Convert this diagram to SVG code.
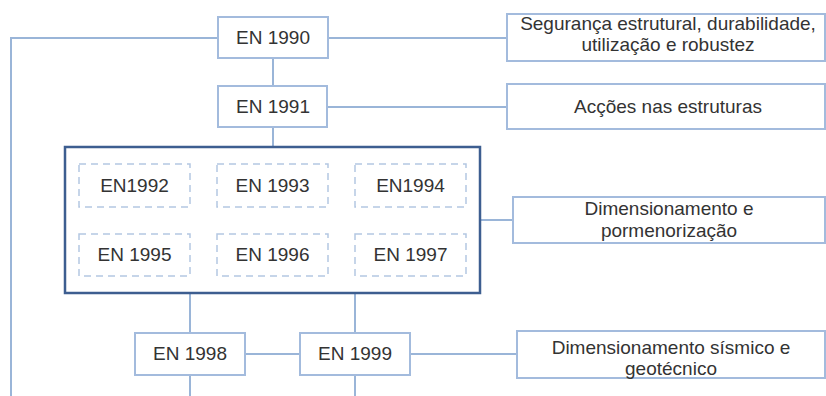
<svg xmlns="http://www.w3.org/2000/svg" width="826" height="396" viewBox="0 0 826 396">
<style>
.c{stroke:#9AB5D8;stroke-width:2;fill:none}
.b{fill:#fff;stroke:#A3BBDD;stroke-width:2}
.d{fill:#fff;stroke:#B4C7E2;stroke-width:1.5;stroke-dasharray:7 5}
.big{fill:#fff;stroke:#3D5E90;stroke-width:2.5}
text{font-family:"Liberation Sans",Arial,sans-serif;font-size:19px;fill:#333;text-anchor:middle}
</style>
<rect width="826" height="396" fill="#fff"/>
<g id="connectors">
<path class="c" d="M218 38H11V396"/>
<path class="c" d="M328 38H507"/>
<path class="c" d="M273 58V86"/>
<path class="c" d="M327 107H507"/>
<path class="c" d="M273 127V147"/>
<path class="c" d="M480 220H513"/>
<path class="c" d="M190 293V396"/>
<path class="c" d="M355 293V396"/>
<path class="c" d="M245 354H300"/>
<path class="c" d="M410 354H517"/>
</g>
<g id="en1990"><rect class="b" x="218" y="17" width="110" height="41"/><text x="273" y="44">EN 1990</text></g>
<g id="en1991"><rect class="b" x="218" y="86" width="109" height="41"/><text x="273" y="113">EN 1991</text></g>
<g id="seguranca"><rect class="b" x="507" y="14" width="318" height="47"/><text x="668" y="29.5">Segurança estrutural, durabilidade,</text><text x="668" y="51">utilização e robustez</text></g>
<g id="accoes"><rect class="b" x="507" y="84" width="318" height="45"/><text x="668" y="113">Acções nas estruturas</text></g>
<g id="group"><rect class="big" x="65" y="147" width="415" height="146"/></g>
<g id="en1992"><rect class="d" x="79" y="164" width="111" height="43"/><text x="134.5" y="192">EN1992</text></g>
<g id="en1993"><rect class="d" x="217" y="164" width="111" height="43"/><text x="272.5" y="192">EN 1993</text></g>
<g id="en1994"><rect class="d" x="355" y="164" width="111" height="43"/><text x="410.5" y="192">EN1994</text></g>
<g id="en1995"><rect class="d" x="79" y="234" width="111" height="42"/><text x="134.5" y="261">EN 1995</text></g>
<g id="en1996"><rect class="d" x="217" y="234" width="111" height="42"/><text x="272.5" y="261">EN 1996</text></g>
<g id="en1997"><rect class="d" x="355" y="234" width="111" height="42"/><text x="410.5" y="261">EN 1997</text></g>
<g id="dimensionamento"><rect class="b" x="513" y="197" width="312" height="46"/><text x="669" y="215">Dimensionamento e</text><text x="669" y="237">pormenorização</text></g>
<g id="en1998"><rect class="b" x="135" y="333" width="110" height="42"/><text x="190" y="360">EN 1998</text></g>
<g id="en1999"><rect class="b" x="300" y="333" width="110" height="42"/><text x="355" y="360">EN 1999</text></g>
<g id="sismico"><rect class="b" x="517" y="331" width="308" height="47"/><text x="671" y="354">Dimensionamento sísmico e</text><text x="671" y="375">geotécnico</text></g>
</svg>
